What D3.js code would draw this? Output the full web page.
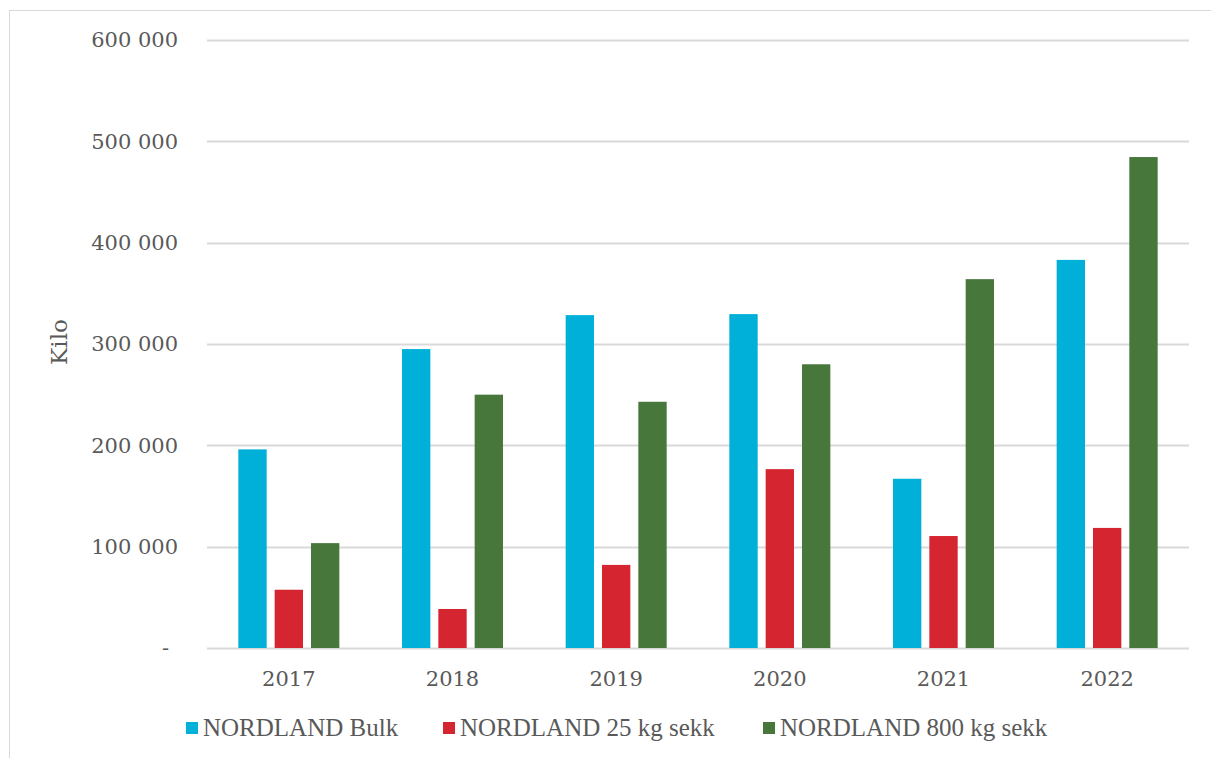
<!DOCTYPE html>
<html>
<head>
<meta charset="utf-8">
<script src="https://cdn.jsdelivr.net/npm/d3@7"></script>
<style>
  body { margin: 0; background: #fff; }
  text { fill: #595959; font-family: "DejaVu Serif", Georgia, serif; }
</style>
</head>
<body>
<div id="container"></div>
<script>
    // Data
    let years = ["2017", "2018", "2019", "2020", "2021", "2022"];
    let seriesNames = ["NORDLAND Bulk", "NORDLAND 25 kg sekk", "NORDLAND 800 kg sekk"];
    let bulk = [196000, 295000, 328500, 329500, 167000, 383000];
    let sekk25 = [57500, 38500, 82000, 176500, 110500, 118500];
    let sekk800 = [103500, 250000, 243000, 280000, 364000, 484500];
    let yTicks = [0, 100000, 200000, 300000, 400000, 500000, 600000];
    let colors = ["#00B0D8", "#D42530", "#47773A"];

    let W = 1211, H = 758;
    let margin = { top: 40, right: 22, bottom: 110, left: 207 };
    let width = W - margin.left - margin.right;
    let height = H - margin.top - margin.bottom;

    let svg = d3.select("#container")
        .append("svg")
        .attr("width", W)
        .attr("height", H);

    // chart border
    svg.append("rect")
        .attr("x", 9.5).attr("y", 10.5)
        .attr("width", W).attr("height", H)
        .attr("fill", "none")
        .attr("stroke", "#d9d9d9");

    let g = svg.append("g")
        .attr("transform", `translate(${margin.left}, ${margin.top})`);

    let x = d3.scaleBand().domain(years).range([0, width]).paddingInner(0).paddingOuter(0);
    let xs = d3.scaleBand().domain(d3.range(3)).range([x.bandwidth() / 2 - 50.5, x.bandwidth() / 2 + 50.5]).paddingInner(0.22);
    let y = d3.scaleLinear().domain([0, 600000]).range([height, 0]);

    // gridlines
    g.selectAll(".grid")
        .data(yTicks)
        .enter()
        .append("line")
        .attr("x1", 0).attr("x2", width)
        .attr("y1", d => Math.round(y(d)) + 0.5)
        .attr("y2", d => Math.round(y(d)) + 0.5)
        .attr("stroke", "#d9d9d9")
        .attr("stroke-width", 2);

    // y tick labels
    let fmt = d => d === 0 ? "-" : d3.format(",")(d).replace(/,/g, " ");
    g.selectAll(".ytick")
        .data(yTicks)
        .enter()
        .append("text")
        .attr("x", d => d === 0 ? -38 : -29)
        .attr("y", d => y(d))
        .attr("dy", "0.35em")
        .attr("text-anchor", "end")
        .style("font-size", "21px")
        .text(fmt);

    // bars
    let rows = years.map((yr, i) => [bulk[i], sekk25[i], sekk800[i]].map((v, s) => ({ yr, s, v })));
    g.selectAll(".bar")
        .data(rows.flat())
        .enter()
        .append("rect")
        .attr("x", d => x(d.yr) + xs(d.s))
        .attr("y", d => y(d.v))
        .attr("width", xs.bandwidth())
        .attr("height", d => height - y(d.v))
        .attr("fill", d => colors[d.s]);

    // x labels
    g.selectAll(".xlab")
        .data(years)
        .enter()
        .append("text")
        .attr("x", d => x(d) + x.bandwidth() / 2)
        .attr("y", height + 38)
        .attr("text-anchor", "middle")
        .style("font-size", "21px")
        .text(d => d);

    // axis title
    svg.append("text")
        .attr("transform", "translate(67, 342) rotate(-90)")
        .attr("text-anchor", "middle")
        .style("font-size", "23px")
        .text("Kilo");

    // legend
    let legendX = [186, 443, 763];
    let lg = svg.selectAll(".legend")
        .data(seriesNames)
        .enter()
        .append("g")
        .attr("transform", (d, i) => `translate(${legendX[i]}, 722)`);
    lg.append("rect")
        .attr("width", 12).attr("height", 12)
        .attr("fill", (d, i) => colors[i]);
    lg.append("text")
        .attr("x", 17)
        .attr("y", 14)
        .style("font-family", "'Liberation Serif', serif")
        .style("font-size", "25px")
        .text(d => d);
</script>
</body>
</html>
